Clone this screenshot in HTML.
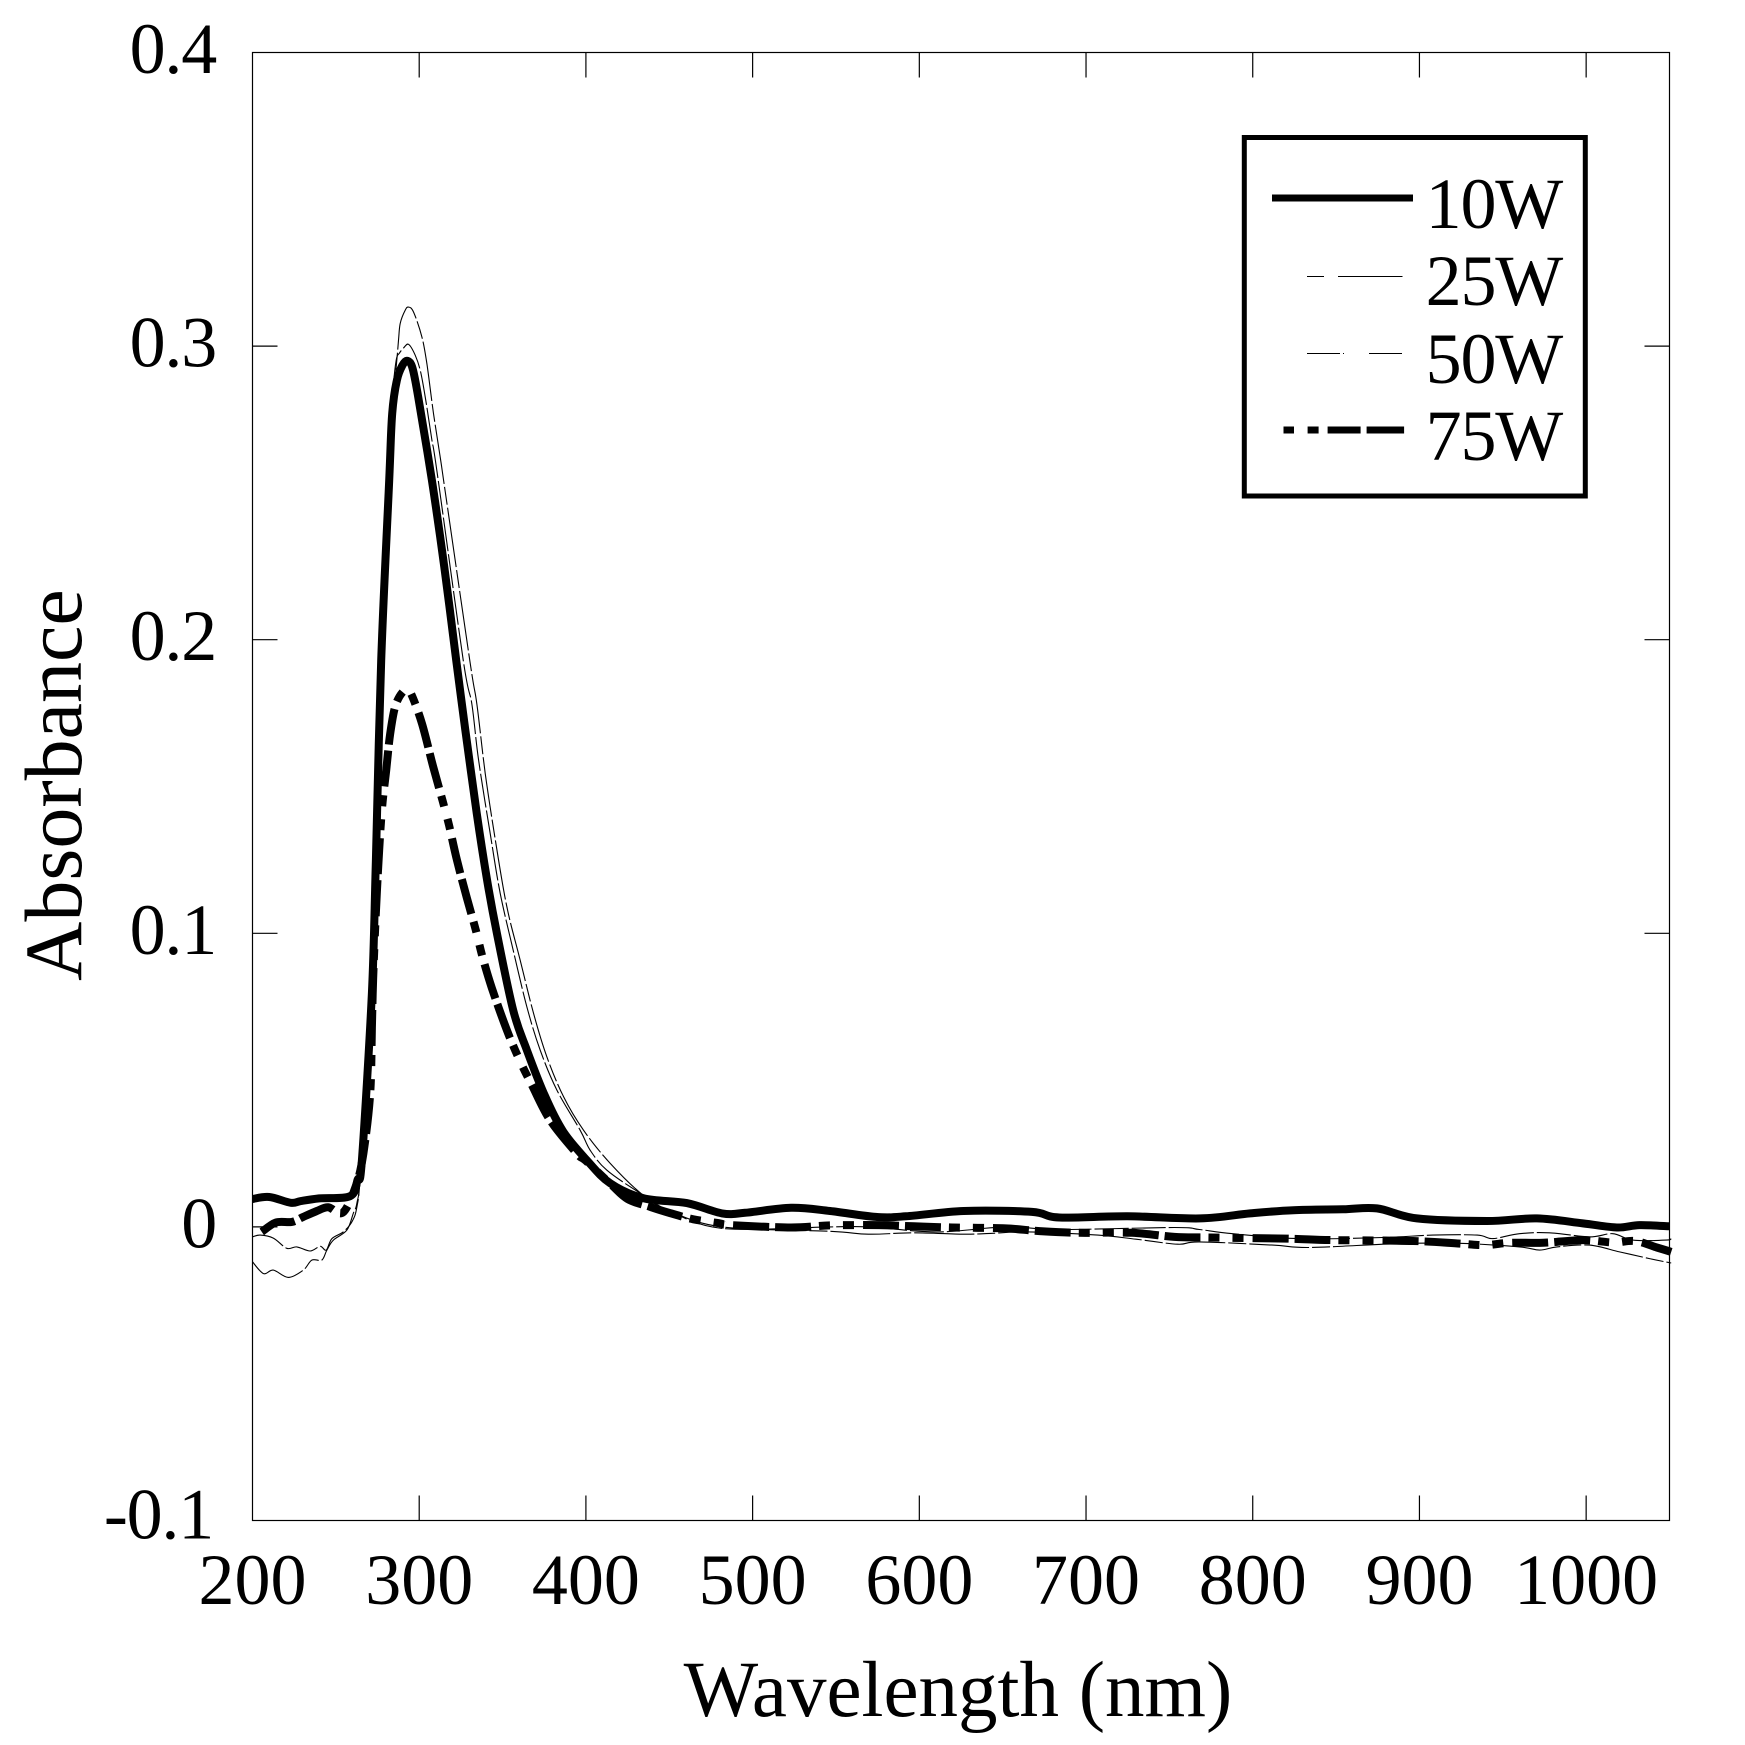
<!DOCTYPE html>
<html lang="en">
<head>
<meta charset="utf-8">
<title>Absorbance vs Wavelength</title>
<style>
html,body{margin:0;padding:0;background:#fff;width:1745px;height:1745px;overflow:hidden}
svg{display:block}
text{font-family:"Liberation Serif",serif;fill:#000}
.tick-text{font-size:72px}
.y-tick-text{letter-spacing:-1.2px}
.legend-text{letter-spacing:-1.2px}
</style>
</head>
<body>
<svg id="chart" xmlns="http://www.w3.org/2000/svg" width="1745" height="1745" viewBox="0 0 1745 1745">
  <rect x="0" y="0" width="1745" height="1745" fill="#fff"/>
  <g id="series-layer"></g>
  <g id="axis-layer"></g>
  <text x="958" y="1716" font-size="79" text-anchor="middle">Wavelength (nm)</text>
  <text transform="translate(81 785) rotate(-90)" font-size="82" text-anchor="middle">Absorbance</text>
  <g>
    <rect x="1244.3" y="137.5" width="341" height="358.5" fill="#fff" stroke="#000" stroke-width="5"/>
    <line x1="1272" y1="198" x2="1413" y2="198" stroke="#000" stroke-width="7"/>
    <text class="legend-text" x="1562" y="228" font-size="72" text-anchor="end">10W</text>
    <line x1="1307" y1="276.5" x2="1402.5" y2="276.5" stroke="#000" stroke-width="1" stroke-dasharray="17 14 64.5"/>
    <text class="legend-text" x="1562" y="305" font-size="72" text-anchor="end">25W</text>
    <line x1="1307" y1="353.5" x2="1402.5" y2="353.5" stroke="#000" stroke-width="1" stroke-dasharray="33 3 1 25 33"/>
    <text class="legend-text" x="1562" y="383" font-size="72" text-anchor="end">50W</text>
    <line x1="1283.5" y1="430" x2="1404.5" y2="430" stroke="#000" stroke-width="7" stroke-dasharray="10.5 13.6 11 9 33 6 37.5"/>
    <text class="legend-text" x="1562" y="460" font-size="72" text-anchor="end">75W</text>
  </g>
</svg>
<script>
const xTickValues = [200, 300, 400, 500, 600, 700, 800, 900, 1000];
const xTickLabels = ['200', '300', '400', '500', '600', '700', '800', '900', '1000'];
const yTickValues = [0.4, 0.3, 0.2, 0.1, 0, -0.1];
const yTickLabels = ['0.4', '0.3', '0.2', '0.1', '0', '-0.1'];
const xDomain = [200, 1050];
const yDomain = [-0.1, 0.4];

const wavelength10W = [200,210,223,229,240,258.6,263,265.6,271.6,274,277.2,282,283.8,286.6,290,293,296,299.4,307.6,315,322.2,327.6,334.6,340.6,346.6,356.4,364.6,375.5,386.4,400.6,414.5,434.3,460.5,481.7,495.5,523,546.5,573.8,592,626.6,667.6,683.9,725,768.6,798.4,824.4,854.2,874.5,898.5,940.5,970.5,998,1018.4,1032,1050];
const absorbance10W = [0.0095,0.0102,0.0082,0.0088,0.0097,0.0105,0.016,0.0227,0.0796,0.125,0.193,0.2543,0.277,0.2884,0.2935,0.295,0.2925,0.2827,0.2543,0.225,0.193,0.1695,0.1405,0.1185,0.1,0.0738,0.0602,0.0445,0.0325,0.0227,0.0149,0.0098,0.0081,0.0046,0.0048,0.0065,0.0054,0.0034,0.0036,0.0054,0.0051,0.0032,0.0036,0.0029,0.0046,0.0057,0.006,0.0063,0.0029,0.002,0.0029,0.0012,-0.0002,0.0006,0.0002];

const wavelength25W = [200,206.6,212.5,221.5,230.5,235.6,241.6,244.6,248.5,256.6,260.5,262.6,265,271,274,277.2,282,284,286.2,287.6,288.6,291.6,293.6,296.6,301.6,304.6,308.6,312.6,315.6,330.6,334.6,339.6,346,352.6,360.6,368.6,376.6,386.6,398.6,414.5,434.3,450,481.7,546.5,569.4,596.8,626.6,642.6,666,707,730,755,768,812,834,888,924,960,972,982.5,1002,1020,1038,1051];
const absorbance25W = [-0.0119,-0.0159,-0.0147,-0.0172,-0.0147,-0.0113,-0.0113,-0.0079,-0.0045,-0.0011,0.0047,0.0081,0.02,0.08,0.127,0.197,0.262,0.281,0.2929,0.302,0.3077,0.3122,0.3133,0.3116,0.3031,0.294,0.277,0.2622,0.2505,0.192,0.178,0.1545,0.1306,0.109,0.0908,0.0727,0.0579,0.0443,0.0329,0.0217,0.0108,0.0055,0,-0.0015,-0.0025,-0.002,-0.0025,-0.0022,-0.0017,-0.0028,-0.0042,-0.0059,-0.0051,-0.0062,-0.007,-0.0057,-0.0056,-0.0068,-0.0079,-0.0068,-0.0062,-0.0085,-0.0108,-0.0123];

const wavelength50W = [200,204.6,212.5,220.6,226.6,234.6,240.6,244.2,247.6,254.4,259.6,262.6,265,271.5,274,277.2,282,284.2,286.2,288,290.4,293.6,297.6,300.6,303.6,307.6,310.6,326.6,331.6,335.6,342.6,348.6,356.4,364.6,372.6,382.6,396.6,402.6,412.6,432.5,450,481.7,546.5,569.4,610.6,651.8,684,753,768,788,828,878,908,934.6,944,960,978,1002,1016,1028,1048,1051];
const absorbance50W = [-0.0034,-0.0028,-0.0038,-0.0073,-0.0068,-0.0082,-0.0066,-0.0079,-0.004,-0.0017,0.0017,0.0068,0.02,0.08,0.126,0.195,0.258,0.2839,0.2952,0.2975,0.2992,0.3006,0.2969,0.2918,0.2827,0.268,0.2575,0.1924,0.178,0.159,0.134,0.1136,0.0942,0.0749,0.0602,0.0466,0.0329,0.0261,0.0193,0.0115,0.0055,-0.0005,0,0,-0.0017,0,-0.0009,-0.0002,-0.0009,-0.0023,-0.004,-0.0036,-0.0028,-0.0028,-0.004,-0.0023,-0.002,-0.0034,-0.0023,-0.0045,-0.0045,-0.004];

const wavelength75W = [205.6,214,223.6,230.4,238.6,245.4,254.2,262,266.5,270.6,271.6,272.4,273.6,275.4,277.6,280.2,282.6,286,291.6,295,301.6,308.4,314.2,318,322.6,328.6,334,337.8,343.6,352.6,360.2,367.6,378.6,394.6,400,415,425,438.6,450.5,464.4,480.5,486.4,523,546.5,575.8,596.8,619.6,651.8,671.2,695.3,727.6,753,774.4,820.4,848,896,924.4,939.4,954.4,974.2,998,1016,1029.2,1042.4,1051];
const absorbance75W = [-0.0017,0.0015,0.0017,0.0034,0.0054,0.0067,0.0049,0.014,0.025,0.0455,0.068,0.085,0.102,0.1225,0.142,0.1555,0.168,0.178,0.183,0.1817,0.1715,0.1567,0.1448,0.1366,0.125,0.112,0.101,0.0923,0.0813,0.067,0.0568,0.0483,0.0363,0.025,0.0225,0.0145,0.0095,0.0068,0.0047,0.0026,0.0012,0.0006,-0.0002,0.0005,0.0006,0.0002,-0.0002,-0.0005,-0.0014,-0.002,-0.002,-0.0034,-0.0036,-0.004,-0.0045,-0.0048,-0.0057,-0.0062,-0.0054,-0.0054,-0.0045,-0.0053,-0.0048,-0.007,-0.0085];

const plot = { left: 252.5, right: 1669.5, top: 52.5, bottom: 1520.5 };
const tickLength = 25;
const SVG_NS = 'http://www.w3.org/2000/svg';

function xScale(v) {
  return plot.left + (v - xDomain[0]) * (plot.right - plot.left) / (xDomain[1] - xDomain[0]);
}
function yScale(v) {
  return plot.bottom - (v - yDomain[0]) * (plot.bottom - plot.top) / (yDomain[1] - yDomain[0]);
}
function seriesPath(xs, ys) {
  const pts = xs.map(function (x, i) { return [xScale(x), yScale(ys[i])]; });
  let d = 'M' + pts[0][0].toFixed(1) + ' ' + pts[0][1].toFixed(1);
  for (let i = 0; i < pts.length - 1; i++) {
    const p0 = pts[Math.max(i - 1, 0)];
    const p1 = pts[i];
    const p2 = pts[i + 1];
    const p3 = pts[Math.min(i + 2, pts.length - 1)];
    const c1x = p1[0] + (p2[0] - p0[0]) / 6;
    const c1y = p1[1] + (p2[1] - p0[1]) / 6;
    const c2x = p2[0] - (p3[0] - p1[0]) / 6;
    const c2y = p2[1] - (p3[1] - p1[1]) / 6;
    d += ' C' + c1x.toFixed(1) + ' ' + c1y.toFixed(1) + ' ' + c2x.toFixed(1) + ' ' + c2y.toFixed(1) + ' ' + p2[0].toFixed(1) + ' ' + p2[1].toFixed(1);
  }
  return d;
}
function axisLine(x1, y1, x2, y2) {
  const el = document.createElementNS(SVG_NS, 'line');
  el.setAttribute('x1', x1);
  el.setAttribute('y1', y1);
  el.setAttribute('x2', x2);
  el.setAttribute('y2', y2);
  el.setAttribute('stroke', '#000');
  el.setAttribute('stroke-width', '1.2');
  return el;
}
function drawSeries(layer, xs, ys, width, dash) {
  const el = document.createElementNS(SVG_NS, 'path');
  el.setAttribute('d', seriesPath(xs, ys));
  el.setAttribute('fill', 'none');
  el.setAttribute('stroke', '#000');
  el.setAttribute('stroke-width', width);
  el.setAttribute('stroke-linejoin', 'round');
  if (dash) el.setAttribute('stroke-dasharray', dash);
  layer.appendChild(el);
  return el;
}

const axisLayer = document.getElementById('axis-layer');
const seriesLayer = document.getElementById('series-layer');

const frame = document.createElementNS(SVG_NS, 'rect');


frame.setAttribute('x', plot.left);
frame.setAttribute('y', plot.top);
frame.setAttribute('width', plot.right - plot.left);
frame.setAttribute('height', plot.bottom - plot.top);
frame.setAttribute('fill', 'none');
frame.setAttribute('stroke', '#000');
frame.setAttribute('stroke-width', '1.2');
axisLayer.appendChild(frame);

xTickValues.forEach(function (v, i) {
  const x = xScale(v);
  if (v !== xDomain[0]) {
    const bottomTick = axisLine(x, plot.bottom, x, plot.bottom - tickLength);
    
    
    axisLayer.appendChild(bottomTick);
    const topTick = axisLine(x, plot.top, x, plot.top + tickLength);
    
    
    axisLayer.appendChild(topTick);
  }
  const label = document.createElementNS(SVG_NS, 'text');
  
  
  label.setAttribute('class', 'tick-text');
  label.setAttribute('x', x);
  label.setAttribute('y', 1604);
  label.setAttribute('text-anchor', 'middle');
  label.textContent = xTickLabels[i];
  axisLayer.appendChild(label);
});

yTickValues.forEach(function (v, i) {
  const y = yScale(v);
  if (v !== yDomain[0] && v !== yDomain[1]) {
    const leftTick = axisLine(plot.left, y, plot.left + tickLength, y);
    
    
    axisLayer.appendChild(leftTick);
    const rightTick = axisLine(plot.right, y, plot.right - tickLength, y);
    
    
    axisLayer.appendChild(rightTick);
  }
  const label = document.createElementNS(SVG_NS, 'text');
  
  
  label.setAttribute('class', 'tick-text y-tick-text');
  label.setAttribute('x', v === yDomain[0] ? 213 : 216);
  label.setAttribute('y', y + (v === yDomain[0] ? 18 : 20.5));
  label.setAttribute('text-anchor', 'end');
  label.textContent = yTickLabels[i];
  axisLayer.appendChild(label);
});

const line25W = drawSeries(seriesLayer, wavelength25W, absorbance25W, 1.1, '60 3 18 3');


const line50W = drawSeries(seriesLayer, wavelength50W, absorbance50W, 1.1, '34 3 34 3');


const line10W = drawSeries(seriesLayer, wavelength10W, absorbance10W, 8, null);


const line75W = drawSeries(seriesLayer, wavelength75W, absorbance75W, 8, '36 6 36 8 11 13 11 9');


</script>
</body>
</html>
